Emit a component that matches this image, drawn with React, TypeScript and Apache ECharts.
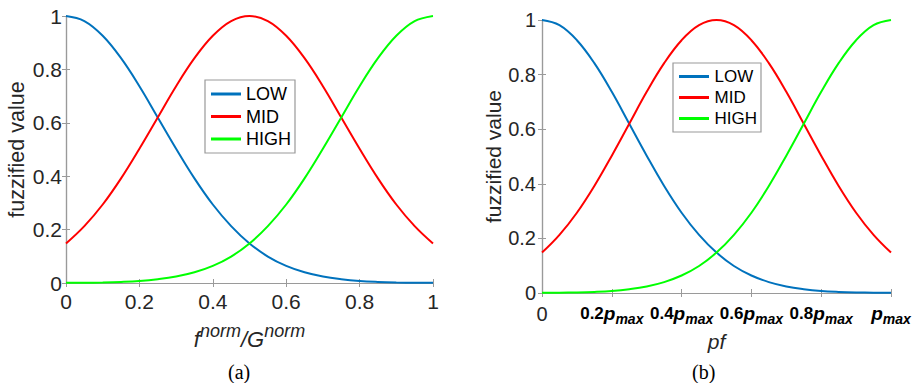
import React, { useEffect, useRef } from "react";
import * as echarts from "echarts";

const xs = [0, 0.05, 0.1, 0.15, 0.2, 0.25, 0.3, 0.35, 0.4, 0.45, 0.5, 0.55, 0.6, 0.65, 0.7, 0.75, 0.8, 0.85, 0.9, 0.95, 1];
const low = [1, 0.981, 0.926, 0.842, 0.737, 0.62, 0.503, 0.392, 0.294, 0.213, 0.148, 0.099, 0.064, 0.04, 0.024, 0.014, 0.0075, 0.004, 0.002, 0.001, 0.0005];
const mid = [0.148, 0.213, 0.294, 0.392, 0.503, 0.62, 0.737, 0.842, 0.926, 0.981, 1, 0.981, 0.926, 0.842, 0.737, 0.62, 0.503, 0.392, 0.294, 0.213, 0.148];
const high = [0.0005, 0.001, 0.002, 0.004, 0.0075, 0.014, 0.024, 0.04, 0.064, 0.099, 0.148, 0.213, 0.294, 0.392, 0.503, 0.62, 0.737, 0.842, 0.926, 0.981, 1];
const seriesNames = ["LOW", "MID", "HIGH"];
const seriesColors = ["#0072BD", "#FF0000", "#00FF00"];
const rightTickNumbers = ["0", "0.2", "0.4", "0.6", "0.8", ""];

const AXIS = "#9a9a9a";
const TXT = "#262626";
const SANS = "'Liberation Sans', Arial, Helvetica, sans-serif";
const LINE_ICON = "path://M0 0H100V10H0Z";

export default function App() {
  const ref = useRef<HTMLDivElement>(null);
  useEffect(() => {
    if (!ref.current) return;
    const chart = echarts.init(ref.current, null, { renderer: "svg" });
    const grids = [
      { left: 66, top: 16, width: 367, height: 267 },
      { left: 542, top: 20, width: 349, height: 273 },
    ];
    const baseAxis = {
      min: 0,
      max: 1,
      interval: 0.2,
      splitLine: { show: false },
      axisLine: { show: true, lineStyle: { color: AXIS, width: 1.2 } },
      axisTick: { show: true, inside: true, length: 4, lineStyle: { color: AXIS } },
    };
    const xAxes: any[] = [];
    const yAxes: any[] = [];
    [0, 1].forEach((g) => {
      xAxes.push({
        ...baseAxis,
        type: "value",
        gridIndex: g,
        position: "bottom",
        axisLabel:
          g === 0
            ? { fontFamily: SANS, fontSize: 21, color: TXT, margin: 8, formatter: (v: number) => String(Math.round(v * 10) / 10) }
            : {
                fontFamily: SANS,
                color: "#000",
                margin: 11,
                formatter: (v: number) => {
                  const i = Math.round(v / 0.2);
                  if (i === 0) return "{n|0}";
                  const num = rightTickNumbers[i];
                  return (num ? `{b|${num}}` : "") + "{p|p}{s|max}";
                },
                rich: {
                  n: { fontFamily: SANS, fontSize: 20, color: TXT, verticalAlign: "top" },
                  b: { fontFamily: SANS, fontSize: 17, fontWeight: "bold", color: "#000", verticalAlign: "top", padding: [1, 0, 0, 0] },
                  p: { fontFamily: SANS, fontSize: 19, fontWeight: "bold", fontStyle: "italic", color: "#000", verticalAlign: "top" },
                  s: { fontFamily: SANS, fontSize: 14, fontWeight: "bold", fontStyle: "italic", color: "#000", verticalAlign: "top", padding: [8, 0, 0, 0] },
                },
              },
        name: g === 0 ? "{i|f}{sup|norm}{i|/G}{sup|norm}" : "pf",
        nameLocation: "middle",
        nameGap: g === 0 ? 39 : 34,
        nameTextStyle:
          g === 0
            ? {
                rich: {
                  i: { fontFamily: SANS, fontSize: 22, fontStyle: "italic", color: TXT, verticalAlign: "bottom" },
                  sup: { fontFamily: SANS, fontSize: 18, fontStyle: "italic", color: TXT, verticalAlign: "bottom", padding: [0, 0, 10, 0] },
                },
              }
            : { fontFamily: SANS, fontSize: 21, fontStyle: "italic", color: TXT },
      });
      xAxes.push({
        ...baseAxis,
        type: "value",
        gridIndex: g,
        position: "top",
        axisLabel: { show: false },
      });
      yAxes.push({
        ...baseAxis,
        type: "value",
        gridIndex: g,
        position: "left",
        axisLabel: {
          fontFamily: SANS,
          fontSize: g === 0 ? 21 : 20,
          color: TXT,
          margin: g === 0 ? 4 : 6,
          formatter: (v: number) => String(Math.round(v * 10) / 10),
        },
        name: "fuzzified value",
        nameLocation: "middle",
        nameGap: g === 0 ? 38 : 37,
        nameTextStyle: { fontFamily: SANS, fontSize: g === 0 ? 21.5 : 21, color: TXT },
      });
      yAxes.push({
        ...baseAxis,
        type: "value",
        gridIndex: g,
        position: "right",
        axisLabel: { show: false },
      });
    });

    const series: any[] = [];
    const datasets = [low, mid, high];
    [0, 1].forEach((g) => {
      datasets.forEach((vals, k) => {
        series.push({
          type: "line",
          name: seriesNames[k],
          xAxisIndex: g * 2,
          yAxisIndex: g * 2,
          data: xs.map((x, i) => [x, vals[i]]),
          smooth: 0.4,
          symbol: "none",
          lineStyle: { color: seriesColors[k], width: 2 },
          itemStyle: { color: seriesColors[k] },
          z: 3,
        });
      });
    });

    chart.setOption({
      animation: false,
      grid: grids,
      xAxis: xAxes,
      yAxis: yAxes,
      series,
      legend: [
        {
          orient: "vertical",
          left: 205,
          top: 80,
          data: seriesNames,
          icon: LINE_ICON,
          itemWidth: 36,
          itemHeight: 3,
          itemGap: 4.5,
          padding: [5, 4, 5, 6],
          borderColor: "#999",
          borderWidth: 1.2,
          backgroundColor: "#fff",
          textStyle: { fontFamily: SANS, fontSize: 18, color: "#000", padding: [0, 0, 0, -3] },
          selectedMode: false,
        },
        {
          orient: "vertical",
          left: 673,
          top: 63,
          data: seriesNames,
          icon: LINE_ICON,
          itemWidth: 33,
          itemHeight: 3,
          itemGap: 4,
          padding: [5, 4, 5, 6],
          borderColor: "#999",
          borderWidth: 1.2,
          backgroundColor: "#fff",
          textStyle: { fontFamily: SANS, fontSize: 17, color: "#000", padding: [0, 0, 0, -1] },
          selectedMode: false,
        },
      ],
      graphic: [
        { type: "text", left: 228, top: 362, style: { text: "(a)", font: "20px 'Liberation Serif', 'Times New Roman', serif", fill: "#000" } },
        { type: "text", left: 692, top: 362, style: { text: "(b)", font: "20px 'Liberation Serif', 'Times New Roman', serif", fill: "#000" } },
      ],
    });
    return () => chart.dispose();
  }, []);
  return <div ref={ref} style={{ position: "fixed", left: 0, top: 0, width: 915, height: 383, background: "#fff" }} />;
}
